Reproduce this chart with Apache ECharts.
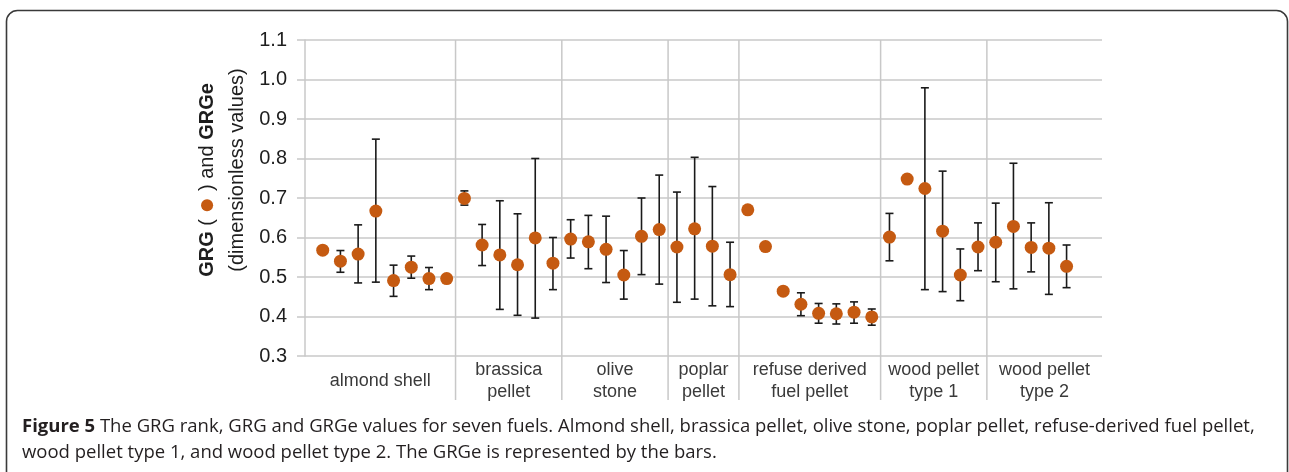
<!DOCTYPE html>
<html>
<head>
<meta charset="utf-8">
<script src="https://cdn.jsdelivr.net/npm/echarts@6/dist/echarts.min.js"></script>
<style>html,body{margin:0;padding:0;background:#fff;}#c{width:1289px;height:472px;}</style>
</head>
<body>
<div id="c"></div>
<script>
// ---- data ----
const categories = ['almond shell', 'brassica\npellet', 'olive\nstone', 'poplar\npellet', 'refuse derived\nfuel pellet', 'wood pellet\ntype 1', 'wood pellet\ntype 2'];
const groupSizes = [8, 6, 6, 4, 8, 6, 5];
const grg = [
  0.568, 0.540, 0.558, 0.667, 0.491, 0.525, 0.496, 0.496,
  0.699, 0.581, 0.556, 0.531, 0.599, 0.535,
  0.596, 0.589, 0.570, 0.505, 0.603, 0.620,
  0.576, 0.622, 0.578, 0.506,
  0.670, 0.577, 0.464, 0.431, 0.408, 0.407, 0.411, 0.399,
  0.601, 0.748, 0.724, 0.616, 0.505, 0.576,
  0.588, 0.628, 0.575, 0.573, 0.527
];
const grgeHigh = [
  null, 0.567, 0.632, 0.849, 0.530, 0.553, 0.524, null,
  0.718, 0.633, 0.693, 0.660, 0.800, 0.600,
  0.645, 0.656, 0.654, 0.567, 0.700, 0.758,
  0.715, 0.803, 0.729, 0.588,
  null, null, null, 0.460, 0.433, 0.432, 0.437, 0.419,
  0.661, null, 0.979, 0.768, 0.571, 0.637,
  0.687, 0.788, 0.637, 0.688, 0.581
];
const grgeLow = [
  null, 0.512, 0.485, 0.487, 0.451, 0.497, 0.468, null,
  0.682, 0.529, 0.418, 0.403, 0.396, 0.468,
  0.548, 0.521, 0.486, 0.444, 0.506, 0.482,
  0.436, 0.444, 0.427, 0.425,
  null, null, null, 0.402, 0.383, 0.381, 0.383, 0.378,
  0.541, null, 0.468, 0.463, 0.440, 0.516,
  0.488, 0.470, 0.513, 0.456, 0.473
];
const yTicks = { min: 0.3, max: 1.1, step: 0.1 };

// ---- derived ----
const X_MAX = 45;
const pts = grg.map((v, i) => [i + 1, v]);
const errs = [];
grg.forEach((v, i) => { if (grgeHigh[i] != null) errs.push([i + 1, grgeLow[i], grgeHigh[i]]); });
const bounds = [];
let acc = 0;
groupSizes.forEach((n, gi) => { acc += n; if (gi < groupSizes.length - 1) bounds.push(acc + 0.5); });
const edges = [0].concat(bounds, [X_MAX]);
const labelData = categories.map((c, i) => [(edges[i] + edges[i + 1]) / 2, yTicks.min, i]);

const ORANGE = '#C55A11';
const GRID = '#c8c8c8';
const LABEL_FONT = '"Liberation Sans", Arial, Helvetica, sans-serif';
const CAP_FONT = '"Open Sans", sans-serif';

const chart = echarts.init(document.getElementById('c'), null, { renderer: 'canvas' });
chart.setOption({
  backgroundColor: '#fff',
  animation: false,
  grid: { left: 305, right: 187, top: 40, bottom: 116, containLabel: false },
  xAxis: {
    type: 'value', min: 0, max: X_MAX,
    axisLine: { show: false }, axisTick: { show: false }, axisLabel: { show: false }, splitLine: { show: false }
  },
  yAxis: {
    type: 'value', min: yTicks.min, max: yTicks.max, interval: yTicks.step,
    axisLine: { show: true, lineStyle: { color: GRID, width: 1.5 } },
    axisTick: { show: true, length: 8, lineStyle: { color: GRID, width: 1.5 } },
    splitLine: { show: true, lineStyle: { color: GRID, width: 1.5 } },
    axisLabel: {
      margin: 18, fontSize: 20, color: '#1e1e1e', fontFamily: LABEL_FONT,
      formatter: v => v.toFixed(1)
    }
  },
  series: [
    {
      type: 'custom', name: 'separators', silent: true, clip: false, z: 1,
      data: bounds.map(b => [b]),
      renderItem: (params, api) => {
        const p1 = api.coord([api.value(0), yTicks.max]);
        const p2 = api.coord([api.value(0), yTicks.min]);
        return { type: 'line', shape: { x1: p1[0], y1: p1[1], x2: p2[0], y2: p2[1] + 44 }, style: { stroke: GRID, lineWidth: 1.5 } };
      }
    },
    {
      type: 'custom', name: 'groupLabels', silent: true, clip: false, z: 2,
      data: labelData,
      renderItem: (params, api) => {
        const p = api.coord([api.value(0), api.value(1)]);
        return {
          type: 'text', x: p[0], y: p[1] + 25,
          style: { text: categories[api.value(2)], align: 'center', verticalAlign: 'middle', fontSize: 18, lineHeight: 22, fill: '#3a3a3a', fontFamily: LABEL_FONT }
        };
      }
    },
    {
      type: 'custom', name: 'GRGe', silent: true, z: 3,
      data: errs,
      renderItem: (params, api) => {
        const x = api.value(0);
        const lo = api.coord([x, api.value(1)]);
        const hi = api.coord([x, api.value(2)]);
        const w = 4;
        const st = { stroke: '#1a1a1a', lineWidth: 1.6 };
        return {
          type: 'group', children: [
            { type: 'line', shape: { x1: hi[0], y1: hi[1], x2: lo[0], y2: lo[1] }, style: st },
            { type: 'line', shape: { x1: hi[0] - w, y1: hi[1], x2: hi[0] + w, y2: hi[1] }, style: st },
            { type: 'line', shape: { x1: lo[0] - w, y1: lo[1], x2: lo[0] + w, y2: lo[1] }, style: st }
          ]
        };
      }
    },
    {
      type: 'scatter', name: 'GRG', z: 5, data: pts, symbol: 'circle', symbolSize: 13,
      itemStyle: { color: ORANGE, opacity: 1 }
    }
  ],
  graphic: [
    {
      type: 'rect', z: 100, silent: true,
      shape: { x: 6.5, y: 10.5, width: 1281, height: 520, r: 11 },
      style: { fill: 'none', stroke: '#3a3a3a', lineWidth: 1.6 }
    },
    {
      type: 'text', z: 100, x: 207, y: 180, rotation: Math.PI / 2,
      style: {
        text: '{b|GRG} ( {dot|●} ) and {b|GRGe}',
        align: 'center', verticalAlign: 'middle', fill: '#1e1e1e', fontSize: 20, fontFamily: LABEL_FONT,
        rich: {
          b: { fontSize: 20, fontWeight: 'bold', fill: '#1e1e1e', fontFamily: LABEL_FONT },
          dot: { fontSize: 28, fill: ORANGE, fontFamily: LABEL_FONT }
        }
      }
    },
    {
      type: 'text', z: 100, x: 237, y: 170, rotation: Math.PI / 2,
      style: {
        text: '(dimensionless values)',
        align: 'center', verticalAlign: 'middle', fill: '#1e1e1e', fontSize: 20, fontFamily: LABEL_FONT
      }
    },
    {
      type: 'text', z: 100, x: 22, y: 427,
      style: {
        text: '{b|Figure 5} The GRG rank, GRG and GRGe values for seven fuels. Almond shell, brassica pellet, olive stone, poplar pellet, refuse-derived fuel pellet,',
        verticalAlign: 'middle', fill: '#231f20', fontSize: 18.5, fontFamily: CAP_FONT,
        rich: { b: { fontWeight: 'bold', fontSize: 18.5, fill: '#231f20', fontFamily: CAP_FONT } }
      }
    },
    {
      type: 'text', z: 100, x: 22, y: 453,
      style: {
        text: 'wood pellet type 1, and wood pellet type 2. The GRGe is represented by the bars.',
        verticalAlign: 'middle', fill: '#231f20', fontSize: 18.5, fontFamily: CAP_FONT
      }
    }
  ]
});
</script>
</body>
</html>
